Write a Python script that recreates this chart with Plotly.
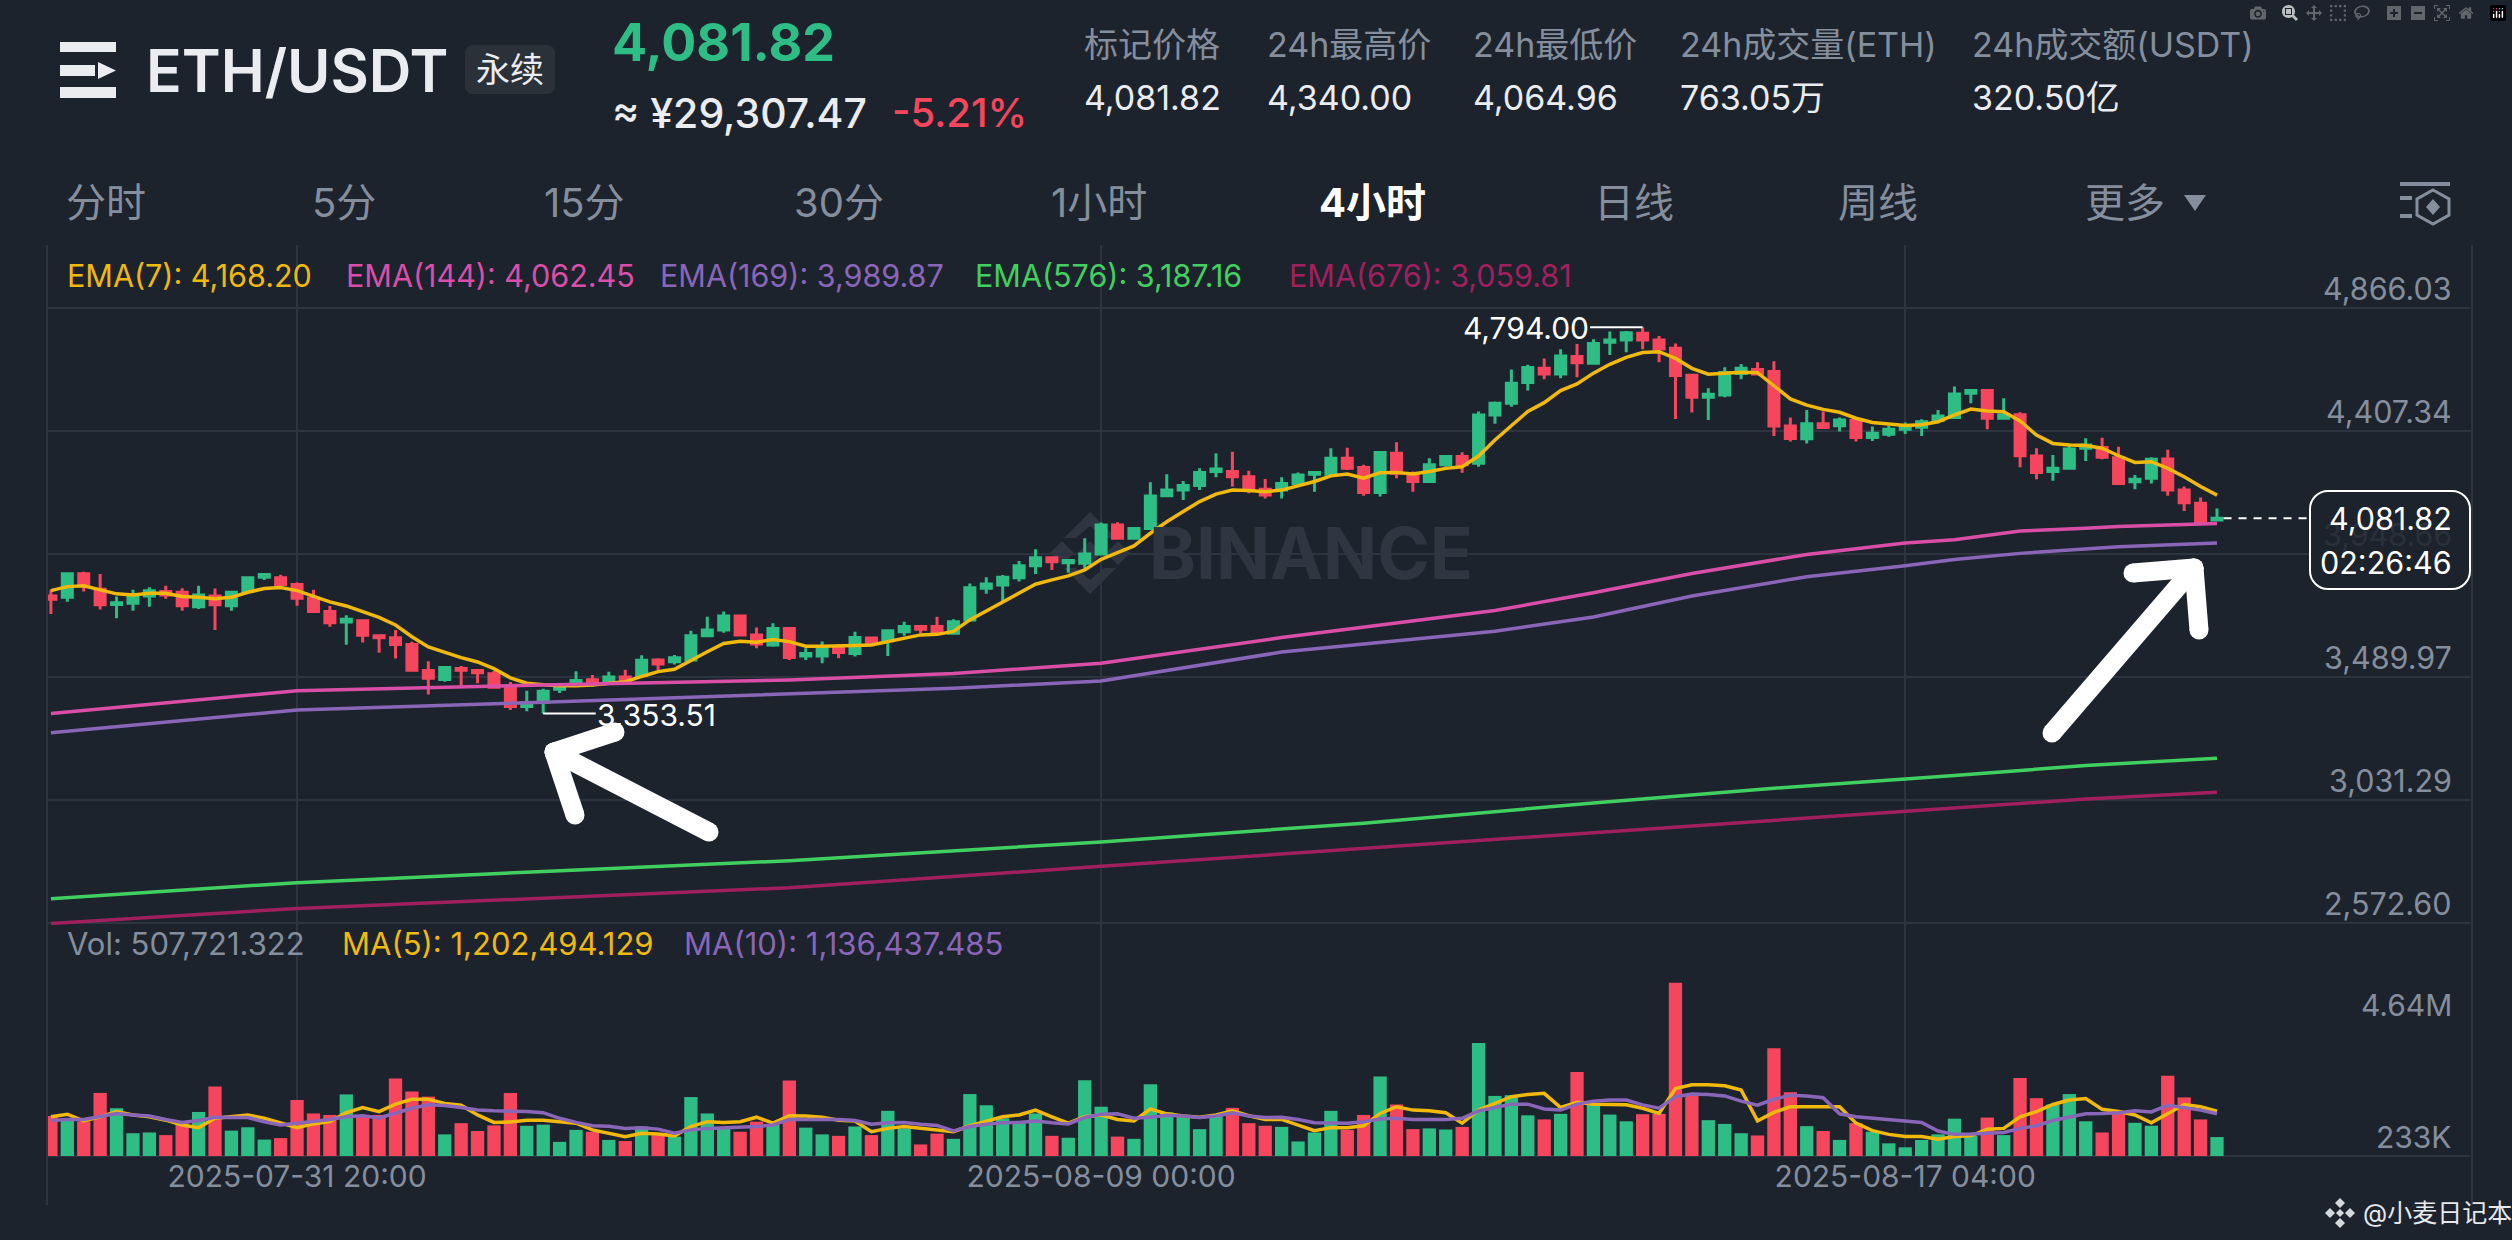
import plotly.graph_objects as go

W, H = 2512, 1240

# candles, one per 4h bar
opens = [3792,3787,3875,3817,3760,3765,3792,3809,3806,3752,3792,3756,3809,3862,3860,3835,3784,3734,3695,3700,
         3644,3636,3611,3514,3481,3522,3514,3502,3452,3380,3396,3444,3465,3480,3471,3490,3496,3553,3547,3553,
         3644,3665,3717,3647,3609,3671,3568,3568,3601,3578,3635,3625,3659,3678,3678,3653,3703,3821,3833,3860,
         3905,3935,3916,3914,3949,4057,4007,4044,4166,4187,4204,4256,4256,4237,4190,4187,4212,4246,4246,4306,
         4271,4178,4324,4243,4219,4281,4312,4287,4467,4511,4588,4641,4620,4685,4660,4738,4747,4772,4747,4716,
         4615,4533,4542,4622,4637,4629,4426,4378,4434,4427,4446,4383,4395,4414,4421,4446,4458,4548,4558,4455,
         4468,4314,4256,4268,4343,4346,4308,4218,4231,4303,4187,4138,4075]
highs = [3815,3880,3882,3874,3790,3815,3825,3830,3821,3830,3820,3809,3865,3876,3871,3842,3815,3755,3720,3702,
         3646,3665,3621,3549,3530,3531,3519,3512,3471,3439,3446,3465,3511,3497,3510,3517,3571,3560,3572,3662,
         3715,3734,3718,3675,3690,3675,3597,3622,3609,3659,3640,3665,3696,3684,3715,3705,3839,3862,3870,3923,
         3966,3936,3925,4007,4066,4067,4047,4216,4246,4221,4268,4324,4330,4259,4228,4235,4253,4256,4343,4345,
         4281,4328,4365,4256,4306,4318,4328,4480,4517,4637,4654,4678,4712,4732,4749,4778,4780,4794,4762,4734,
         4620,4567,4645,4657,4664,4667,4458,4486,4480,4458,4451,4424,4426,4439,4451,4486,4573,4560,4560,4529,
         4477,4343,4318,4361,4380,4382,4349,4243,4309,4337,4200,4159,4118]
lows = [3725,3771,3809,3742,3709,3737,3752,3782,3737,3744,3665,3737,3802,3852,3834,3756,3730,3677,3610,3619,
        3580,3559,3511,3425,3472,3452,3467,3446,3367,3362,3354,3430,3459,3455,3465,3465,3490,3516,3537,3547,
        3644,3655,3644,3597,3603,3553,3553,3541,3560,3566,3609,3568,3644,3653,3653,3652,3696,3800,3771,3846,
        3874,3889,3879,3895,3945,4003,4003,4041,4163,4150,4187,4235,4200,4175,4156,4156,4210,4181,4237,4262,
        4166,4163,4231,4181,4215,4274,4252,4274,4434,4498,4558,4600,4604,4608,4657,4691,4701,4712,4664,4452,
        4476,4448,4533,4600,4616,4389,4368,4361,4419,4405,4368,4370,4386,4396,4389,4436,4452,4511,4414,4452,
        4272,4227,4222,4266,4295,4302,4207,4190,4212,4166,4109,4065,4072]
closes = [3780,3875,3830,3759,3767,3790,3812,3796,3756,3796,3759,3806,3860,3872,3835,3784,3734,3692,3705,3646,
          3636,3611,3515,3485,3525,3515,3506,3452,3380,3384,3437,3449,3477,3462,3490,3471,3552,3538,3562,3644,
          3665,3717,3647,3613,3671,3563,3578,3603,3581,3637,3616,3662,3678,3668,3655,3696,3823,3837,3862,3905,
          3935,3920,3924,3949,4057,4007,4044,4165,4187,4204,4253,4266,4237,4187,4169,4212,4243,4253,4306,4268,
          4178,4327,4250,4219,4281,4312,4281,4467,4511,4585,4644,4620,4687,4662,4734,4747,4774,4747,4713,4614,
          4533,4544,4625,4641,4620,4426,4379,4434,4420,4448,4383,4399,4414,4426,4442,4463,4545,4558,4455,4467,
          4315,4253,4268,4340,4355,4309,4212,4227,4302,4187,4140,4069,4081.82]

# volume, millions
volumes = [1.07,0.98,0.93,1.69,1.28,0.61,0.63,0.56,0.88,1.18,1.86,0.68,0.77,0.44,0.48,1.50,1.14,1.10,1.65,1.05,
           1.10,2.08,1.73,1.59,0.58,0.88,0.67,0.82,1.69,0.81,0.84,0.38,0.70,0.65,0.43,0.40,0.79,0.56,0.52,1.58,
           1.14,0.74,0.65,0.92,0.83,2.02,0.76,0.58,0.54,0.79,0.56,1.21,0.74,0.31,0.60,0.46,1.66,1.36,1.01,0.88,
           1.14,0.54,0.49,2.03,1.32,0.52,0.46,1.92,1.17,1.05,0.72,1.10,1.29,0.88,0.81,0.78,0.39,0.63,1.21,0.70,
           1.10,2.13,1.38,0.72,0.74,0.71,0.78,3.03,1.61,1.63,1.09,0.98,1.13,2.25,1.37,1.11,0.93,1.12,1.13,4.64,
           1.63,0.96,0.86,0.61,0.55,2.89,1.71,0.80,0.67,0.43,0.88,0.65,0.34,0.233,0.43,0.58,1.00,0.54,1.03,0.56,
           2.09,1.55,1.38,1.66,0.93,0.63,1.19,0.89,0.81,2.15,1.57,0.98,0.508]
vol_ma5 = [1.05,1.12,0.94,1.05,1.19,1.10,1.05,0.96,0.83,0.76,1.01,1.05,1.10,1.01,0.88,0.76,0.86,0.92,1.16,1.30,
           1.19,1.39,1.52,1.52,1.41,1.36,1.10,0.90,0.91,0.96,0.96,0.92,0.88,0.70,0.61,0.52,0.61,0.59,0.54,0.79,
           0.92,0.90,0.92,1.04,0.88,1.08,1.07,1.04,0.96,0.94,0.65,0.74,0.79,0.74,0.70,0.65,0.81,0.92,1.05,1.10,
           1.23,1.05,0.88,1.05,1.10,0.98,0.94,1.26,1.13,1.07,1.04,1.10,1.21,1.08,0.98,0.98,0.83,0.68,0.76,0.76,
           0.81,1.14,1.32,1.23,1.21,1.16,0.88,1.23,1.41,1.59,1.65,1.68,1.30,1.44,1.39,1.38,1.37,1.28,1.14,1.81,
           1.91,1.91,1.88,1.77,0.94,1.17,1.32,1.32,1.32,1.32,0.88,0.68,0.58,0.52,0.52,0.45,0.52,0.54,0.72,0.74,
           1.05,1.19,1.38,1.50,1.54,1.25,1.19,1.10,0.89,1.13,1.38,1.32,1.20]
vol_ma10 = [0.95,0.98,0.98,1.07,1.14,1.10,1.07,0.98,0.90,0.95,1.04,1.03,1.03,0.92,0.83,0.88,0.92,0.98,1.05,1.08,
            1.02,1.14,1.28,1.37,1.35,1.30,1.23,1.21,1.21,1.19,1.16,1.01,0.90,0.81,0.80,0.74,0.76,0.72,0.61,0.70,
            0.74,0.76,0.76,0.79,0.83,0.98,0.98,0.98,0.98,0.95,0.85,0.89,0.90,0.85,0.82,0.67,0.79,0.85,0.89,0.90,
            0.94,0.89,0.86,1.03,1.12,1.13,1.01,1.04,1.09,1.07,1.03,1.07,1.16,1.07,1.03,1.04,0.98,0.89,0.88,0.88,
            0.92,0.99,1.01,0.98,0.98,0.98,1.01,1.21,1.30,1.39,1.39,1.26,1.23,1.39,1.47,1.50,1.50,1.37,1.28,1.59,
            1.66,1.65,1.61,1.47,1.36,1.52,1.63,1.61,1.56,1.13,1.05,1.01,0.96,0.92,0.90,0.67,0.58,0.59,0.61,0.63,
            0.74,0.81,0.95,1.05,1.13,1.14,1.16,1.21,1.18,1.36,1.30,1.23,1.13]

ema7 = [3812,3827,3830,3815,3800,3796,3802,3802,3790,3787,3782,3787,3806,3820,3824,3812,3792,3770,3755,3734,
        3712,3684,3640,3602,3581,3562,3546,3521,3487,3467,3461,3457,3457,3460,3467,3472,3492,3510,3519,3553,
        3584,3615,3623,3620,3630,3622,3605,3605,3605,3607,3609,3622,3637,3647,3649,3660,3703,3737,3771,3805,
        3836,3852,3867,3889,3929,3954,3979,4026,4069,4107,4144,4172,4187,4185,4181,4187,4204,4219,4240,4247,
        4231,4252,4253,4247,4256,4268,4274,4314,4374,4426,4480,4513,4558,4583,4623,4656,4682,4700,4703,4678,
        4641,4619,4622,4626,4625,4575,4527,4504,4488,4477,4455,4439,4432,4428,4431,4442,4467,4489,4482,4479,
        4445,4392,4361,4355,4353,4343,4315,4290,4293,4268,4237,4200,4168.20]

# the slow EMAs barely bend, so a reading every few bars is enough
fast_idx = [0,15,30,45,55,64,75,88,94,100,107,113,116,120,124,126,132]
ema144 = [3354,3439,3460,3479,3503,3541,3637,3738,3804,3876,3947,3990,4002,4034,4045,4051,4062.45]
ema169 = [3282,3367,3396,3427,3448,3475,3583,3661,3714,3792,3864,3905,3928,3951,3968,3976,3989.87]
slow_idx = [0,15,30,45,64,80,94,105,116,124,132]
ema576 = [2663,2723,2765,2805,2875,2945,3020,3075,3123,3160,3187.16]
ema676 = [2571,2627,2665,2704,2784,2851,2910,2956,3001,3035,3059.81]

bars = list(range(len(closes)))
assert len(opens) == len(highs) == len(lows) == len(closes) == len(volumes) == len(vol_ma5) == len(vol_ma10) == len(ema7) == 133

date_ticks = [15, 64, 113]
date_labels = ["2025-07-31 20:00", "2025-08-09 00:00", "2025-08-17 04:00"]
price_ticks = [4866.03, 4407.34, 3948.66, 3489.97, 3031.29, 2572.60]

BG = "#1D232D"
GRID = "#2E343F"
GREEN = "#2EBD85"
RED = "#F6465D"
GRAY = "#848E9C"
LIGHT = "#EAECEF"
YELLOW = "#F0B90B"
PINK = "#D94FA8"
PURPLE = "#8A66B8"
LIME = "#41D060"
PLUM = "#A0205F"
FONT = "Inter, 'Noto Sans CJK SC', sans-serif"


def px(x):
    return x / W


def py(y):
    return 1 - y / H


fig = go.Figure()

fig.add_candlestick(
    x=bars, open=opens, high=highs, low=lows, close=closes,
    increasing=dict(line=dict(color=GREEN, width=3), fillcolor=GREEN),
    decreasing=dict(line=dict(color=RED, width=3), fillcolor=RED),
    whiskerwidth=0, hoverinfo="skip",
)
for xs, ys, col in [(bars, ema7, YELLOW), (fast_idx, ema144, PINK), (fast_idx, ema169, PURPLE),
                    (slow_idx, ema576, LIME), (slow_idx, ema676, PLUM)]:
    fig.add_scatter(x=xs, y=ys, mode="lines", line=dict(color=col, width=3.5), hoverinfo="skip")

vol_colors = [GREEN if c >= o else RED for o, c in zip(opens, closes)]
fig.add_bar(x=bars, y=volumes, marker=dict(color=vol_colors, line=dict(width=0)), xaxis="x2", yaxis="y2", hoverinfo="skip")
fig.add_scatter(x=bars, y=vol_ma5, mode="lines", line=dict(color=YELLOW, width=3.5), xaxis="x2", yaxis="y2", hoverinfo="skip")
fig.add_scatter(x=bars, y=vol_ma10, mode="lines", line=dict(color=PURPLE, width=3.5), xaxis="x2", yaxis="y2", hoverinfo="skip")

x_range = [-0.238, 147.54]
fig.update_layout(
    width=W, height=H, margin=dict(l=0, r=0, t=0, b=0),
    paper_bgcolor=BG, plot_bgcolor=BG, showlegend=False, bargap=0.19,
    boxgap=0.39, boxgroupgap=0,
    font=dict(family=FONT),
    xaxis=dict(domain=[px(47), px(2472)], range=x_range, anchor="y", tickvals=date_ticks, showticklabels=False,
               showgrid=True, gridcolor=GRID, gridwidth=2, zeroline=False, rangeslider=dict(visible=False)),
    yaxis=dict(domain=[py(925), py(245)], range=[2565.2, 5100.9], anchor="x", tickvals=price_ticks, showticklabels=False,
               showgrid=True, gridcolor=GRID, gridwidth=2, zeroline=False),
    xaxis2=dict(domain=[px(47), px(2472)], range=x_range, anchor="y2", matches="x", tickvals=date_ticks, ticktext=date_labels,
                showgrid=True, gridcolor=GRID, gridwidth=2, zeroline=False, ticks="", ticklen=0,
                tickfont=dict(size=30, color=GRAY, family=FONT)),
    yaxis2=dict(domain=[py(1156), py(925)], range=[0, 6.19], anchor="x2", showticklabels=False,
                showgrid=False, zeroline=True, zerolinecolor=GRID, zerolinewidth=2),
)


def label(x, y, s, size, color, anchor="left", weight=400):
    fig.add_annotation(x=px(x), y=py(y), xref="paper", yref="paper", text=s, showarrow=False, xanchor=anchor, yanchor="middle",
                       borderpad=0, font=dict(size=size, color=color, family=FONT, weight=weight))


def shape_path(points, fill, layer="above"):
    d = "M " + " L ".join(f"{px(a):.5f},{py(b):.5f}" for a, b in points) + " Z"
    fig.add_shape(type="path", path=d, xref="paper", yref="paper", fillcolor=fill, line=dict(width=0), layer=layer)


def rect(x0, y0, x1, y1, fill):
    fig.add_shape(type="rect", x0=px(x0), x1=px(x1), y0=py(y1), y1=py(y0), xref="paper", yref="paper",
                  fillcolor=fill, line=dict(width=0))


def stroke(x0, y0, x1, y1, color, width):
    fig.add_shape(type="line", x0=px(x0), x1=px(x1), y0=py(y0), y1=py(y1), xref="paper", yref="paper",
                  line=dict(color=color, width=width))


def dot(x, y, r, color):
    fig.add_shape(type="circle", x0=px(x - r), x1=px(x + r), y0=py(y + r), y1=py(y - r), xref="paper", yref="paper",
                  fillcolor=color, line=dict(width=0))


def round_box(x0, y0, x1, y1, r, fill, line_color=None):
    k = 0.45 * r
    pts = (f"M {px(x0 + r):.5f},{py(y0):.5f} L {px(x1 - r):.5f},{py(y0):.5f} "
           f"C {px(x1 - k):.5f},{py(y0):.5f} {px(x1):.5f},{py(y0 + k):.5f} {px(x1):.5f},{py(y0 + r):.5f} "
           f"L {px(x1):.5f},{py(y1 - r):.5f} "
           f"C {px(x1):.5f},{py(y1 - k):.5f} {px(x1 - k):.5f},{py(y1):.5f} {px(x1 - r):.5f},{py(y1):.5f} "
           f"L {px(x0 + r):.5f},{py(y1):.5f} "
           f"C {px(x0 + k):.5f},{py(y1):.5f} {px(x0):.5f},{py(y1 - k):.5f} {px(x0):.5f},{py(y1 - r):.5f} "
           f"L {px(x0):.5f},{py(y0 + r):.5f} "
           f"C {px(x0):.5f},{py(y0 + k):.5f} {px(x0 + k):.5f},{py(y0):.5f} {px(x0 + r):.5f},{py(y0):.5f} Z")
    fig.add_shape(type="path", path=pts, xref="paper", yref="paper", fillcolor=fill,
                  line=dict(color=line_color or fill, width=2 if line_color else 0))


# chart frame, the outer rules run below the volume pane
stroke(47, 245, 47, 1205, GRID, 2)
stroke(2472, 245, 2472, 1205, GRID, 2)

# header
rect(60, 42, 116, 52, LIGHT)
rect(60, 65, 95, 76, LIGHT)
shape_path([(98, 62), (116, 70.5), (98, 79)], LIGHT)
rect(60, 87, 116, 98, LIGHT)
label(145, 71, "ETH/USDT", 59, LIGHT, weight=600)
round_box(465, 45, 555, 94, 8, "#2B3139")
label(510, 70, "永续", 34, LIGHT, anchor="center")
label(611, 43, "4,081.82", 52, GREEN, weight=700)
label(611, 113, "≈ ¥29,307.47", 41, LIGHT, weight=500)
label(891, 113, "-5.21%", 40, RED, weight=500)

stat_x = [1083, 1266, 1472, 1679, 1971]
stat_names = ["标记价格", "24h最高价", "24h最低价", "24h成交量(ETH)", "24h成交额(USDT)"]
stat_values = ["4,081.82", "4,340.00", "4,064.96", "763.05万", "320.50亿"]
for sx, name, val in zip(stat_x, stat_names, stat_values):
    label(sx, 45, name, 34, GRAY)
    label(sx, 97, val, 34, LIGHT)

tab_x = [65, 311, 543, 793, 1050, 1318, 1593, 1837, 2084]
tab_names = ["分时", "5分", "15分", "30分", "1小时", "4小时", "日线", "周线", "更多"]
for tx, name in zip(tab_x, tab_names):
    if name == "4小时":
        label(tx, 203, name, 40, "#FFFFFF", weight=700)
    else:
        label(tx, 203, name, 40, GRAY)
shape_path([(2184, 195), (2206, 195), (2195, 211)], GRAY)

# indicator settings icon
rect(2400, 182, 2450, 186, GRAY)
rect(2400, 196, 2412, 200, GRAY)
rect(2400, 214, 2412, 218, GRAY)
hexagon = f"M {px(2433):.5f},{py(190):.5f} L {px(2449):.5f},{py(199):.5f} L {px(2449):.5f},{py(215):.5f} L {px(2433):.5f},{py(224):.5f} L {px(2417):.5f},{py(215):.5f} L {px(2417):.5f},{py(199):.5f} Z"
fig.add_shape(type="path", path=hexagon, xref="paper", yref="paper", line=dict(color=GRAY, width=3))
shape_path([(2433, 199), (2440, 207), (2433, 215), (2426, 207)], GRAY)

# indicator legends
label(66, 275, "EMA(7): 4,168.20", 30.5, YELLOW)
label(345, 275, "EMA(144): 4,062.45", 30.5, PINK)
label(659, 275, "EMA(169): 3,989.87", 30.5, PURPLE)
label(974, 275, "EMA(576): 3,187.16", 30.5, LIME)
label(1288, 275, "EMA(676): 3,059.81", 30.5, PLUM)
label(66, 943, "Vol: 507,721.322", 31, GRAY)
label(341, 943, "MA(5): 1,202,494.129", 31, YELLOW)
label(683, 943, "MA(10): 1,136,437.485", 31, PURPLE)

# price scale labels sit on top of their gridlines
for tick in price_ticks:
    faint = tick == 3948.66
    fig.add_annotation(x=px(2453), y=tick, xref="paper", yref="y", text=f"{tick:,.2f}", showarrow=False, xanchor="right",
                       yanchor="bottom", borderpad=0, font=dict(size=30.5, color="#2A303A" if faint else GRAY, family=FONT))
label(2453, 1005, "4.64M", 30, GRAY, anchor="right")
label(2453, 1137, "233K", 30, GRAY, anchor="right")

# high / low callouts
fig.add_shape(type="line", x0=93.8, x1=97, y0=4794, y1=4794, xref="x", yref="y", line=dict(color="#FFFFFF", width=2))
label(1590, 328, "4,794.00", 30, "#FFFFFF", anchor="right")
fig.add_shape(type="line", x0=30, x1=33.2, y0=3353.51, y1=3353.51, xref="x", yref="y", line=dict(color="#FFFFFF", width=2))
label(596, 715, "3,353.51", 30, "#FFFFFF")

# last price tag
fig.add_shape(type="line", x0=132.4, x1=137.7, y0=4081.82, y1=4081.82, xref="x", yref="y",
              line=dict(color="#FFFFFF", width=2, dash="8px,7px"))
round_box(2310, 491, 2470, 589, 18, BG, "#FFFFFF")
label(2453, 519, "4,081.82", 30.5, "#FFFFFF", anchor="right")
label(2453, 562, "02:26:46", 30.5, "#FFFFFF", anchor="right")

# hand drawn arrows
for (x0, y0, x1, y1) in [(709, 832, 554, 752), (554, 752, 615, 732), (554, 752, 575, 815),
                         (2052, 733, 2194, 568), (2194, 568, 2133, 573), (2194, 568, 2199, 630)]:
    stroke(x0, y0, x1, y1, "#FFFFFF", 19)
    dot(x0, y0, 9.5, "#FFFFFF")
    dot(x1, y1, 9.5, "#FFFFFF")

# exchange watermark
MARK = "#2F3641"
cx, cy = 1090, 553
shape_path([(cx, cy - 12), (cx + 12, cy), (cx, cy + 12), (cx - 12, cy)], MARK, layer="below")
shape_path([(cx - 40, cy), (cx - 28, cy - 12), (cx - 16, cy), (cx - 28, cy + 12)], MARK, layer="below")
shape_path([(cx + 40, cy), (cx + 28, cy - 12), (cx + 16, cy), (cx + 28, cy + 12)], MARK, layer="below")
shape_path([(cx, cy - 41), (cx + 26, cy - 15), (cx + 14, cy - 15), (cx, cy - 27), (cx - 14, cy - 15), (cx - 26, cy - 15)], MARK, layer="below")
shape_path([(cx, cy + 41), (cx + 26, cy + 15), (cx + 14, cy + 15), (cx, cy + 27), (cx - 14, cy + 15), (cx - 26, cy + 15)], MARK, layer="below")
label(1148, 553, "BINANCE", 71, MARK, weight=700)

# post credit, bottom right
for dx, dy, r in [(0, -10, 5), (0, 10, 5), (-10, 0, 5), (10, 0, 5), (0, 0, 4)]:
    shape_path([(2340 + dx, 1213 + dy - r), (2340 + dx + r, 1213 + dy), (2340 + dx, 1213 + dy + r), (2340 + dx - r, 1213 + dy)], "#D5D8DC")
label(2362, 1213, "@小麦日记本", 25, "#E6E8EB")

# the default page margin would shift the whole figure
fig.write_html("out.html", post_script="document.body.style.margin='0';document.body.style.background='#1D232D';")
